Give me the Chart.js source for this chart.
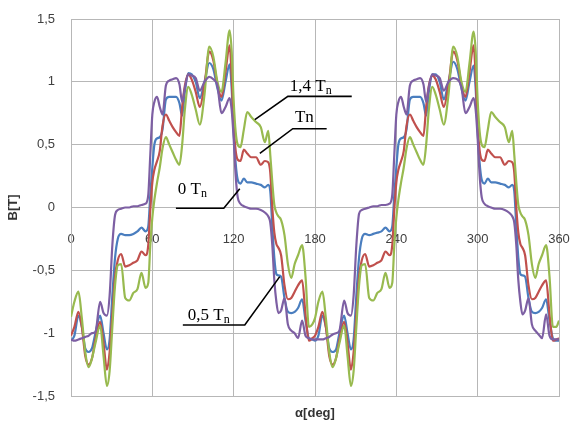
<!DOCTYPE html>
<html><head><meta charset="utf-8">
<script src="https://cdn.jsdelivr.net/npm/chart.js@4.4.1/dist/chart.umd.min.js"></script>
<style>html,body{margin:0;padding:0;background:#fff;overflow:hidden}#wrap{width:572px;height:421px;position:relative}</style>
</head><body><div id="wrap"><canvas id="c" width="572" height="421"></canvas></div>
<script>
// angle grid (deg)
const angles = [
 0,2.5,5.5,8,10.5,13,15.5,18,21.5,24,26.5,28.5,30.5,32.5,34.5,37,40,43,46,49,52,55,57,58.5,60,61.5,63.5,65.5,67.5,70,72.5,75,77.5,80,82,84,86.5,89,92,95,98.5,102,105,108,111,114,117,118.5,120,121.5,123,125,127.5,130,133,136.5,140,143,145.5,147,148.5,150,151.5,153,155,157.5,160,162.5,165,167.5,170.5,173,175.5,178,
 180,182.5,185.5,188,190.5,193,195.5,198,201.5,204,206.5,208.5,210.5,212.5,214.5,217,220,223,226,229,232,235,237,238.5,240,241.5,243.5,245.5,247.5,250,252.5,255,257.5,260,262,264,266.5,269,272,275,278.5,282,285,288,291,294,297,298.5,300,301.5,303,305,307.5,310,313,316.5,320,323,325.5,327,328.5,330,331.5,333,335,337.5,340,342.5,345,347.5,350.5,353,355.5,358,360];

// 0 Tn (purple)
const b0Tn = [
 -1.05,-1.06,-1.05,-1.04,-1.03,-1.02,-1.00,-0.99,-0.75,-0.84,-0.86,-0.70,-0.30,-0.06,-0.02,-0.01,0.00,0.00,0.01,0.01,0.02,0.03,0.10,0.42,0.74,0.84,0.88,0.80,0.74,0.97,1.01,1.02,1.03,0.98,0.84,0.95,1.06,1.05,1.03,0.93,1.00,1.04,1.02,0.97,0.75,0.80,0.87,0.78,0.55,0.25,0.08,0.03,0.01,0.00,-0.01,-0.01,-0.02,-0.04,-0.07,-0.12,-0.30,-0.58,-0.75,-0.84,-0.82,-0.72,-0.93,-0.98,-1.00,-1.04,-0.90,-1.02,-1.04,-1.05,
 -1.05,-1.05,-1.05,-1.04,-1.03,-1.01,-1.00,-0.98,-0.74,-0.84,-0.86,-0.70,-0.30,-0.05,-0.02,-0.01,0.00,0.01,0.01,0.02,0.02,0.03,0.10,0.42,0.74,0.84,0.88,0.80,0.74,0.97,1.01,1.02,1.03,0.98,0.84,0.96,1.06,1.05,1.03,0.93,1.00,1.03,1.02,0.96,0.75,0.80,0.87,0.78,0.55,0.25,0.08,0.03,0.01,0.00,-0.01,-0.01,-0.02,-0.04,-0.07,-0.12,-0.30,-0.58,-0.75,-0.85,-0.82,-0.72,-0.93,-0.98,-1.01,-1.04,-0.85,-1.02,-1.05,-1.05,-1.05];

// 0,5 Tn (blue)
const b05Tn = [
 -1.06,-1.02,-0.86,-0.95,-1.12,-1.15,-1.12,-1.00,-0.86,-1.00,-1.13,-1.05,-0.70,-0.40,-0.25,-0.21,-0.22,-0.22,-0.21,-0.19,-0.16,-0.19,-0.15,0.10,0.32,0.50,0.55,0.56,0.62,0.86,0.88,0.88,0.88,0.83,0.73,0.92,1.07,1.06,1.00,0.87,1.00,1.15,1.10,0.95,0.85,1.00,1.14,0.95,0.60,0.35,0.22,0.19,0.23,0.20,0.20,0.19,0.18,0.16,0.18,0.13,-0.15,-0.40,-0.53,-0.54,-0.55,-0.72,-0.83,-0.84,-0.83,-0.80,-0.73,-0.90,-1.04,-1.05,
 -1.06,-1.02,-0.86,-0.95,-1.12,-1.15,-1.13,-1.00,-0.86,-1.00,-1.13,-1.05,-0.70,-0.40,-0.25,-0.21,-0.22,-0.21,-0.20,-0.19,-0.16,-0.19,-0.15,0.10,0.32,0.50,0.55,0.56,0.62,0.86,0.88,0.88,0.88,0.83,0.73,0.92,1.06,1.06,1.00,0.86,1.00,1.16,1.10,0.95,0.85,1.00,1.13,0.95,0.60,0.35,0.22,0.19,0.23,0.20,0.20,0.19,0.18,0.16,0.18,0.13,-0.15,-0.40,-0.53,-0.54,-0.55,-0.72,-0.83,-0.84,-0.83,-0.80,-0.73,-0.90,-1.04,-1.06,-1.06];

// Tn (red)
const bTn = [
 -1.02,-0.95,-0.83,-0.95,-1.18,-1.25,-1.20,-1.05,-0.91,-1.08,-1.29,-1.15,-0.85,-0.55,-0.42,-0.37,-0.47,-0.46,-0.44,-0.42,-0.35,-0.38,-0.30,-0.02,0.20,0.30,0.37,0.45,0.65,0.74,0.69,0.64,0.60,0.57,0.80,0.97,1.06,1.02,0.92,0.80,0.98,1.24,1.17,0.98,0.88,1.08,1.29,1.05,0.65,0.45,0.38,0.37,0.46,0.43,0.40,0.40,0.34,0.37,0.36,0.28,0.00,-0.20,-0.29,-0.32,-0.38,-0.62,-0.73,-0.72,-0.67,-0.62,-0.58,-0.85,-1.06,-1.04,
 -1.02,-0.95,-0.83,-0.95,-1.18,-1.25,-1.20,-1.05,-0.91,-1.08,-1.29,-1.15,-0.85,-0.55,-0.42,-0.37,-0.47,-0.46,-0.44,-0.42,-0.35,-0.38,-0.30,-0.02,0.20,0.30,0.37,0.45,0.65,0.74,0.69,0.64,0.60,0.57,0.80,0.97,1.05,1.02,0.92,0.80,0.98,1.24,1.17,0.98,0.88,1.08,1.29,1.05,0.65,0.45,0.38,0.37,0.46,0.43,0.40,0.40,0.34,0.37,0.36,0.28,0.00,-0.20,-0.29,-0.32,-0.38,-0.62,-0.73,-0.72,-0.67,-0.62,-0.58,-0.85,-1.06,-1.05,-1.04];

// 1,4 Tn (green)
const b14Tn = [
 -0.87,-0.75,-0.67,-0.88,-1.15,-1.27,-1.20,-1.08,-0.94,-1.18,-1.42,-1.30,-0.95,-0.62,-0.46,-0.45,-0.72,-0.74,-0.68,-0.65,-0.52,-0.64,-0.60,-0.30,-0.08,0.06,0.20,0.32,0.47,0.56,0.50,0.44,0.38,0.34,0.50,0.78,0.96,0.90,0.78,0.66,0.90,1.28,1.20,1.00,0.92,1.15,1.41,1.25,0.85,0.60,0.50,0.48,0.62,0.76,0.72,0.68,0.64,0.52,0.61,0.42,0.20,0.02,-0.04,-0.07,-0.10,-0.22,-0.45,-0.56,-0.45,-0.38,-0.30,-0.55,-0.95,-0.93,
 -0.88,-0.75,-0.67,-0.88,-1.15,-1.27,-1.20,-1.08,-0.94,-1.18,-1.42,-1.30,-0.95,-0.62,-0.46,-0.45,-0.72,-0.74,-0.68,-0.65,-0.52,-0.64,-0.60,-0.30,-0.08,0.06,0.20,0.32,0.47,0.56,0.50,0.44,0.38,0.34,0.50,0.78,0.96,0.90,0.78,0.66,0.90,1.28,1.20,1.00,0.92,1.15,1.40,1.25,0.85,0.60,0.50,0.48,0.62,0.76,0.72,0.68,0.64,0.52,0.61,0.42,0.20,0.02,-0.04,-0.07,-0.10,-0.22,-0.45,-0.56,-0.45,-0.38,-0.30,-0.55,-0.95,-0.95,-0.90];

const xTicks = [0,60,120,180,240,300,360];
const yTicks = [-1.5,-1,-0.5,0,0.5,1,1.5];
const seriesNames = ['0 Tn','1,4 Tn','Tn','0,5 Tn'];

const toXY = vals => angles.map((a,i)=>({x:a,y:vals[i]}));
const colors = {p:'#7D5FA3', g:'#98BA4F', r:'#C0504D', b:'#4A7EBF'};
const GRID = '#b7b7b7';

// annotation labels (data coords: deg, B)
const notes = [
  {main:'1,4 T', sub:'n', text:[161.4,0.927], line:[[207.1,0.884],[160,0.884],[135.6,0.70]]},
  {main:'Tn', sub:'', text:[165.2,0.68], line:[[188.6,0.627],[163.6,0.627],[139.3,0.43]]},
  {main:'0 T', sub:'n', text:[78.8,0.104], line:[[77.4,-0.006],[112.7,-0.006],[124.5,0.15]]},
  {main:'0,5 T', sub:'n', text:[86.2,-0.892], line:[[82.5,-0.935],[128.2,-0.935],[154,-0.55]]}
];

const notePlugin = {
  id:'notes',
  afterDatasetsDraw(chart){
    const {ctx, scales:{x, y}} = chart;
    ctx.save();
    ctx.strokeStyle = '#000'; ctx.lineWidth = 1.6; ctx.lineJoin='miter';
    notes.forEach(n=>{
      ctx.beginPath();
      n.line.forEach((p,i)=>{const px=x.getPixelForValue(p[0]), py=y.getPixelForValue(p[1]); i?ctx.lineTo(px,py):ctx.moveTo(px,py);});
      ctx.stroke();
      const tx=x.getPixelForValue(n.text[0]), ty=y.getPixelForValue(n.text[1]);
      ctx.fillStyle='#000'; ctx.textBaseline='alphabetic'; ctx.textAlign='left';
      ctx.font='17px "Liberation Serif", "Times New Roman", serif';
      ctx.fillText(n.main, tx, ty);
      if(n.sub){
        const w=ctx.measureText(n.main).width;
        ctx.font='12px "Liberation Serif", "Times New Roman", serif';
        ctx.fillText(n.sub, tx+w, ty+3);
      }
    });
    ctx.restore();
  }
};

new Chart(document.getElementById('c'), {
  type:'line',
  data:{datasets:[
    {label:seriesNames[0], data:toXY(b0Tn), borderColor:colors.p},
    {label:seriesNames[1], data:toXY(b14Tn), borderColor:colors.g},
    {label:seriesNames[2], data:toXY(bTn), borderColor:colors.r},
    {label:seriesNames[3], data:toXY(b05Tn), borderColor:colors.b}
  ]},
  options:{
    responsive:false, animation:false, devicePixelRatio:1,
    parsing:false, normalized:true,
    elements:{point:{radius:0}, line:{borderWidth:2.2, cubicInterpolationMode:'monotone', fill:false}},
    layout:{padding:{left:0, right:13, top:19, bottom:0}},
    plugins:{legend:{display:false}, tooltip:{enabled:false}},
    scales:{
      x:{type:'linear', min:0, max:360, position:'bottom',
         afterBuildTicks(s){s.ticks = xTicks.map(v=>({value:v}));},
         afterFit(s){s.height = 25; s.paddingLeft=0; s.paddingRight=0;},
         ticks:{display:false},
         grid:{color:GRID, drawTicks:false, lineWidth:1},
         border:{color:GRID},
         title:{display:true, text:'α[deg]', color:'#333', padding:{top:0,bottom:0},
                font:{family:'"Liberation Sans", Arial, sans-serif', size:13, weight:'bold'}}},
      x2:{type:'linear', min:0, max:360, position:{y:0},
         afterBuildTicks(s){s.ticks = xTicks.map(v=>({value:v}));},
         afterFit(s){s.paddingLeft=0; s.paddingRight=0; s.paddingTop=0; s.paddingBottom=0;},
         grid:{display:false, drawTicks:false}, border:{display:false},
         ticks:{padding:24, color:'#404040', maxRotation:0, autoSkip:false,
                font:{family:'"Liberation Sans", Arial, sans-serif', size:13},
                callback:v=>String(v)}},
      y:{type:'linear', min:-1.5, max:1.5, position:'left',
         afterBuildTicks(s){s.ticks = yTicks.map(v=>({value:v}));},
         afterFit(s){s.width = 71; s.paddingTop=0; s.paddingBottom=0;},
         grid:{color:GRID, drawTicks:false, lineWidth:1},
         border:{color:GRID},
         ticks:{padding:16, color:'#404040',
                font:{family:'"Liberation Sans", Arial, sans-serif', size:13},
                callback:v=>String(v).replace('.',',')},
         title:{display:true, text:'B[T]', color:'#333', padding:{top:6,bottom:0},
                font:{family:'"Liberation Sans", Arial, sans-serif', size:13, weight:'bold'}}}
    }
  },
  plugins:[notePlugin]
});
</script></body></html>
